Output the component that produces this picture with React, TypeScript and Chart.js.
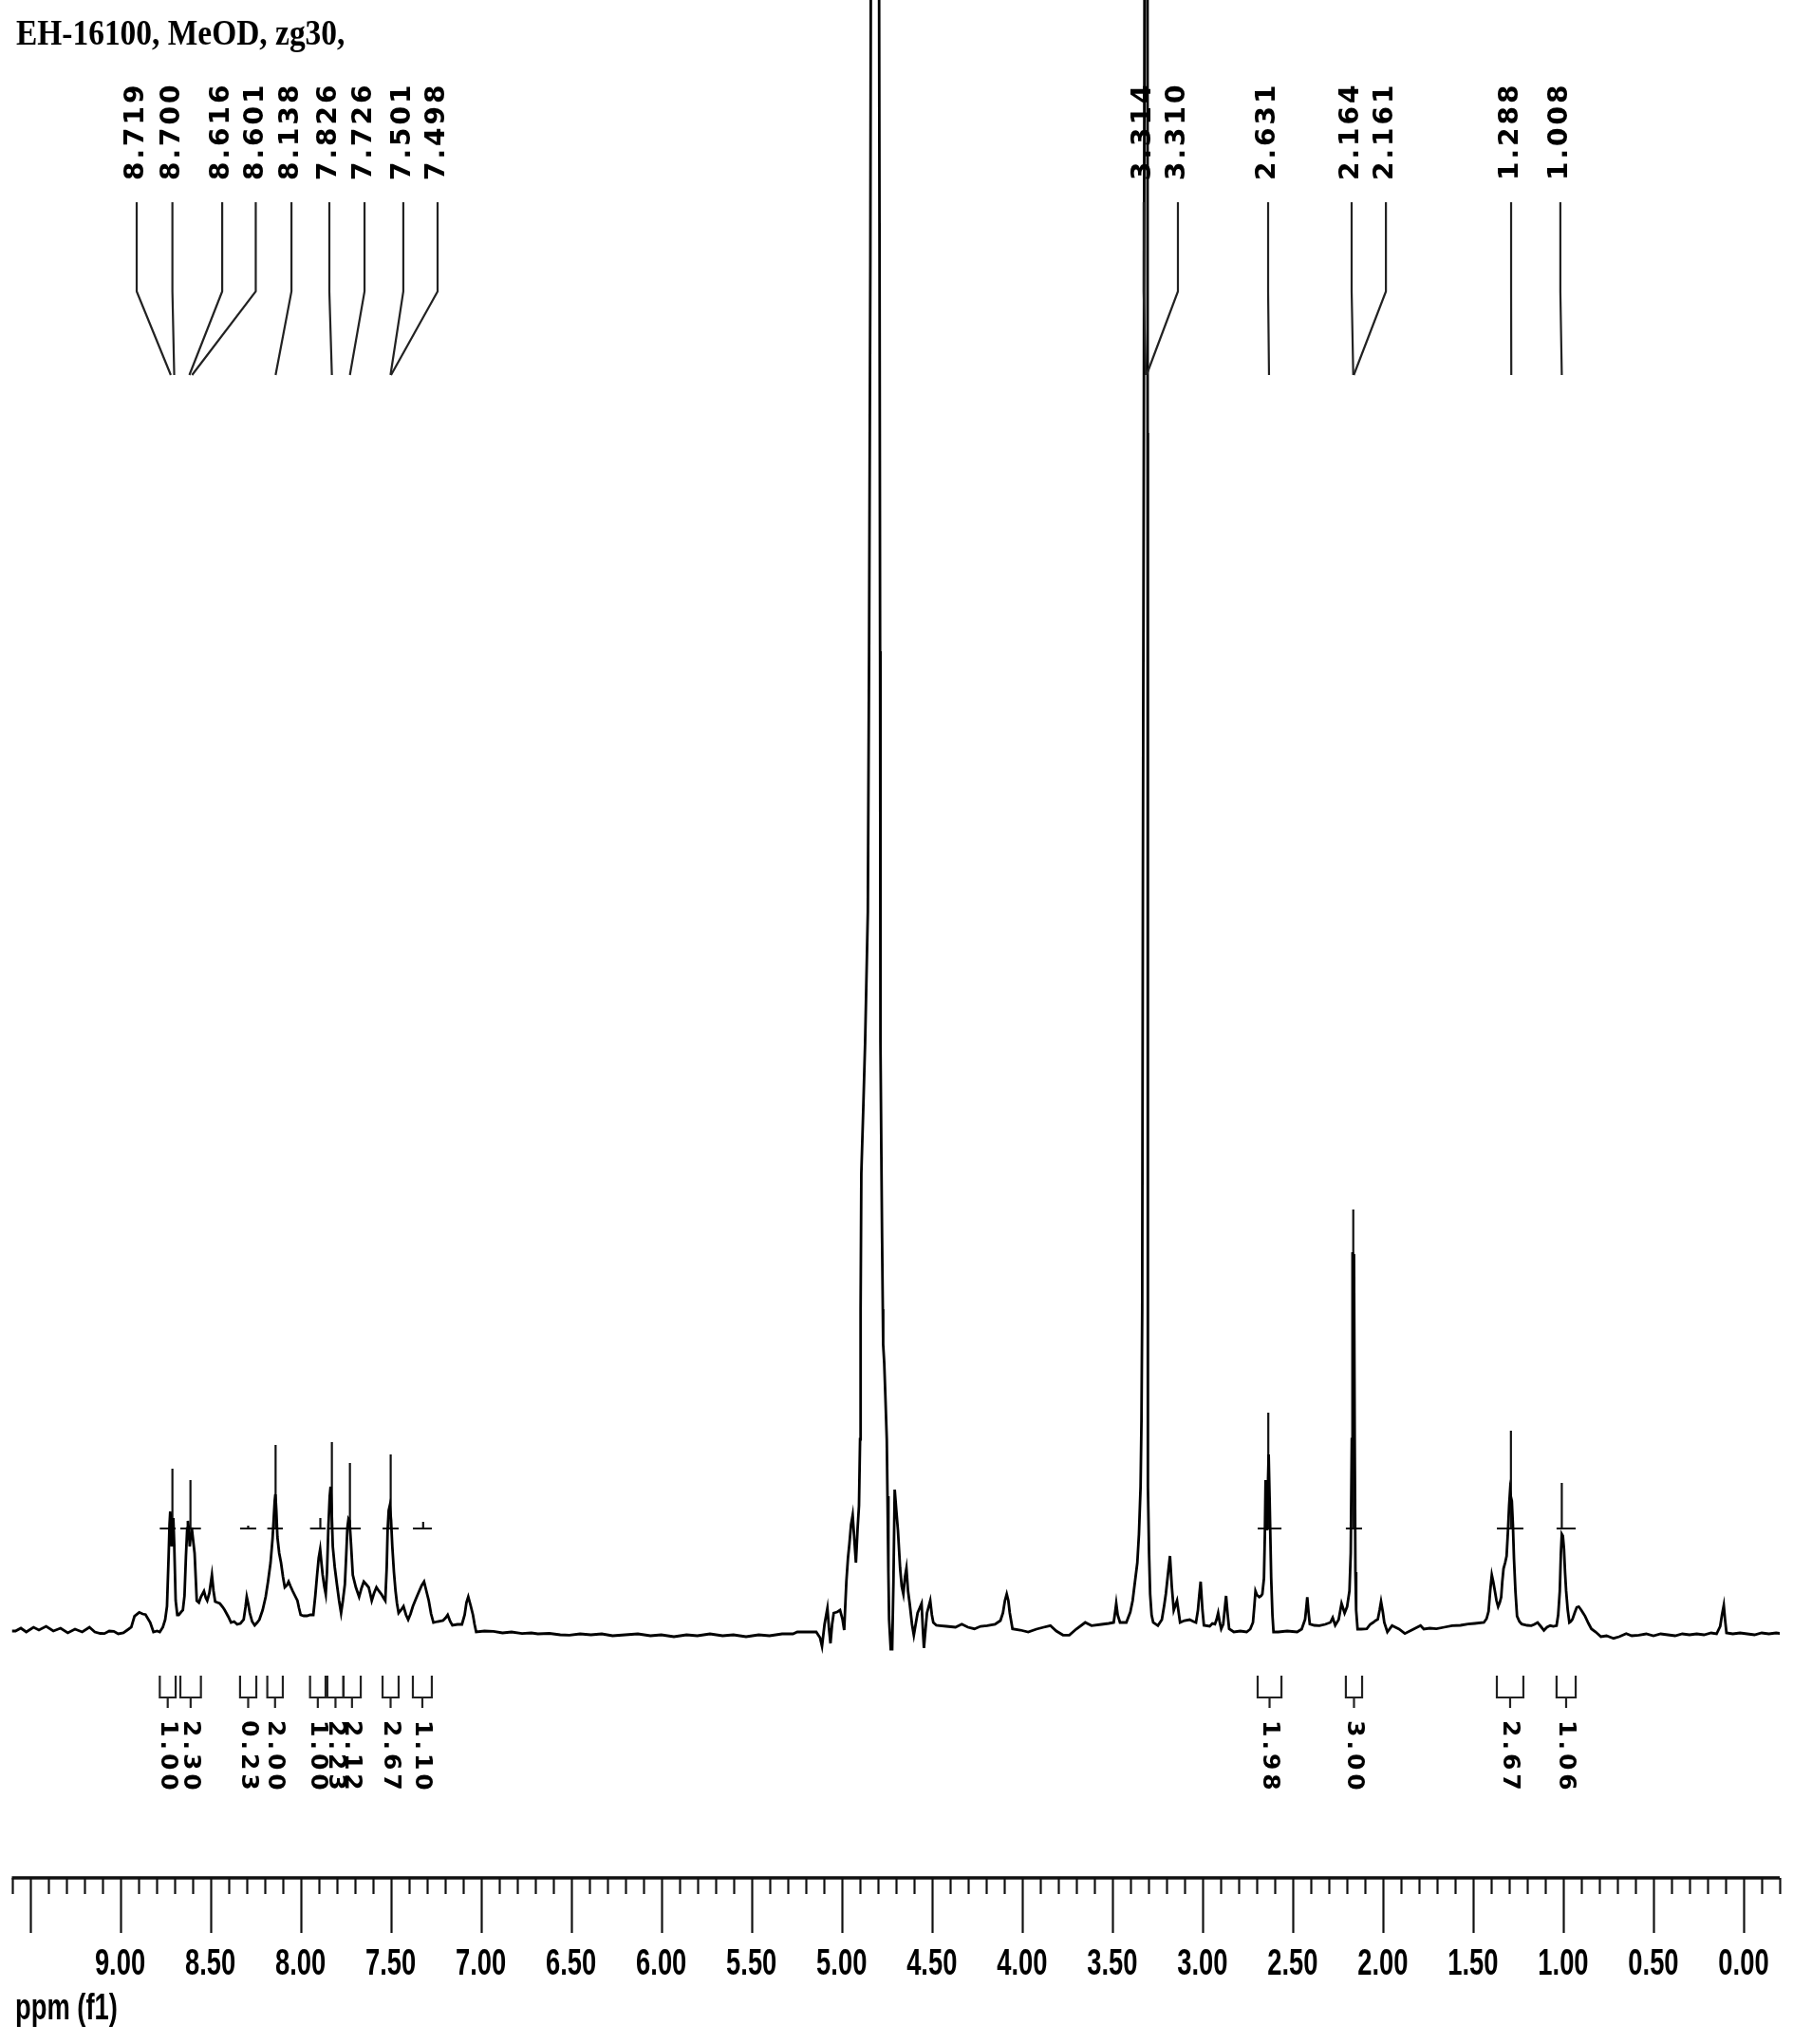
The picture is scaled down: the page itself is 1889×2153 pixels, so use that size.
import React, { useEffect, useRef } from "react";
import { Chart, registerables } from "chart.js";

Chart.register(...registerables);

// ---------- text ----------
const TITLE = "EH-16100, MeOD, zg30,";
const AXIS_TITLE = "ppm (f1)";

// ---------- axis ----------
const X_MIN = -0.2;
const X_MAX = 9.6;
const Y_MIN = -26.2;
const Y_MAX = 171.6;
const TICK_VALUES = [9.0, 8.5, 8.0, 7.5, 7.0, 6.5, 6.0, 5.5, 5.0, 4.5, 4.0, 3.5, 3.0, 2.5, 2.0, 1.5, 1.0, 0.5, 0.0];
const TICK_LABELS = ["9.00", "8.50", "8.00", "7.50", "7.00", "6.50", "6.00", "5.50", "5.00", "4.50", "4.00", "3.50", "3.00", "2.50", "2.00", "1.50", "1.00", "0.50", "0.00"];

// ---------- spectrum (ppm, intensity) ----------
const baselineLow: [number, number][] = [
  [9.6, -0.2], [9.58, -0.2], [9.55, 0.1], [9.52, -0.3], [9.48, 0.2], [9.45, -0.1], [9.41, 0.3], [9.37, -0.2],
  [9.33, 0.1], [9.29, -0.4], [9.25, 0.0], [9.21, -0.3], [9.17, 0.2], [9.14, -0.3],
];

const aromaticRegion: [number, number][] = [
  [9.11, -0.45], [9.087, -0.47], [9.06, -0.2], [9.035, -0.23], [9.01, -0.5], [8.982, -0.4], [8.96, -0.1],
  [8.938, 0.2], [8.92, 1.37], [8.894, 1.77], [8.875, 1.6], [8.859, 1.53], [8.833, 0.7], [8.815, -0.3],
  [8.795, -0.2], [8.78, -0.3], [8.763, 0.2], [8.75, 1.0], [8.74, 2.4], [8.731, 7.7], [8.726, 11.0],
  [8.722, 12.4], [8.718, 11.5], [8.714, 8.7], [8.709, 10.5], [8.705, 11.7], [8.7, 9.0], [8.692, 3.0],
  [8.683, 1.5], [8.675, 1.5], [8.662, 1.8], [8.652, 2.0], [8.643, 3.5], [8.635, 7.7], [8.628, 10.6],
  [8.624, 11.4], [8.619, 10.5], [8.614, 8.7], [8.608, 10.0], [8.603, 10.7], [8.596, 9.5], [8.587, 8.0],
  [8.575, 3.0], [8.563, 2.8], [8.552, 3.4], [8.535, 4.0], [8.525, 3.3], [8.517, 3.0], [8.505, 3.8],
  [8.491, 5.7], [8.482, 4.0], [8.473, 2.9], [8.447, 2.7], [8.43, 2.3], [8.42, 2.0], [8.4, 1.3],
  [8.385, 0.7], [8.368, 0.8], [8.351, 0.5], [8.333, 0.6], [8.315, 1.0], [8.305, 2.3], [8.298, 3.4],
  [8.289, 2.6], [8.281, 1.7], [8.268, 0.8], [8.254, 0.4], [8.24, 0.7], [8.228, 1.0], [8.21, 2.0],
  [8.193, 3.4], [8.18, 5.0], [8.166, 7.0], [8.155, 9.5], [8.149, 11.4], [8.143, 13.5], [8.139, 14.2],
  [8.134, 12.5], [8.128, 9.7], [8.118, 8.0], [8.108, 7.0], [8.097, 5.5], [8.087, 4.4], [8.076, 4.6],
  [8.066, 5.0], [8.055, 4.5], [8.043, 4.0], [8.03, 3.5], [8.017, 3.0], [8.008, 2.2], [7.999, 1.5],
  [7.982, 1.4], [7.964, 1.4], [7.946, 1.5], [7.929, 1.5], [7.918, 3.5], [7.908, 5.7], [7.899, 7.5],
  [7.891, 8.4], [7.884, 7.0], [7.877, 5.7], [7.868, 4.5], [7.86, 3.7], [7.853, 6.0], [7.846, 10.4],
  [7.838, 14.0], [7.833, 15.0], [7.828, 13.0], [7.821, 8.7], [7.81, 6.5], [7.798, 4.7], [7.786, 3.0],
  [7.775, 1.7], [7.765, 3.0], [7.754, 4.7], [7.746, 8.0], [7.74, 10.7], [7.734, 11.6], [7.728, 11.4],
  [7.72, 9.0], [7.71, 5.7], [7.693, 4.4], [7.675, 3.4], [7.662, 4.3], [7.649, 5.0], [7.635, 4.7],
  [7.622, 4.4], [7.613, 3.7], [7.605, 3.0], [7.592, 3.8], [7.579, 4.4], [7.565, 4.0], [7.552, 3.7],
  [7.54, 3.3], [7.53, 3.0], [7.522, 6.5], [7.517, 10.4], [7.511, 12.5], [7.505, 13.0], [7.498, 11.5],
  [7.491, 8.7], [7.482, 6.0], [7.473, 4.0], [7.465, 2.7], [7.456, 1.7], [7.443, 2.0], [7.429, 2.4],
  [7.415, 1.5], [7.403, 1.0], [7.39, 1.6], [7.377, 2.4], [7.36, 3.2], [7.342, 4.0], [7.328, 4.6],
  [7.315, 5.0], [7.302, 4.0], [7.289, 3.0], [7.276, 1.6], [7.263, 0.7], [7.24, 0.8], [7.21, 0.9],
  [7.195, 1.2], [7.184, 1.5], [7.17, 0.8], [7.158, 0.4], [7.13, 0.5], [7.105, 0.5], [7.09, 1.5],
  [7.08, 2.8], [7.07, 3.4], [7.057, 2.5], [7.044, 1.5], [7.035, 0.5], [7.026, -0.3], [6.98, -0.2],
  [6.93, -0.23], [6.88, -0.4], [6.83, -0.3], [6.772, -0.47], [6.72, -0.4], [6.684, -0.5], [6.62, -0.45],
  [6.56, -0.6], [6.509, -0.63],
];

const baselineMid: [number, number][] = [
  [6.45, -0.5], [6.39, -0.6], [6.33, -0.5], [6.27, -0.7], [6.2, -0.6], [6.13, -0.5], [6.06, -0.7],
  [6.0, -0.6], [5.93, -0.8], [5.86, -0.6], [5.8, -0.7], [5.73, -0.5], [5.66, -0.7], [5.6, -0.6],
  [5.53, -0.8], [5.46, -0.6], [5.4, -0.7], [5.33, -0.5], [5.27, -0.5],
];

const waterRegion: [number, number][] = [
  [5.246, -0.3], [5.2, -0.3], [5.141, -0.3], [5.12, -0.9], [5.109, -1.8], [5.095, 0.5], [5.079, 2.2],
  [5.07, 0.0], [5.062, -1.5], [5.053, 0.5], [5.044, 1.7], [5.025, 1.8], [5.009, 2.0], [4.995, 1.0],
  [4.986, -0.1], [4.98, 2.5], [4.974, 5.0], [4.965, 7.5], [4.957, 9.0], [4.948, 11.0], [4.939, 12.0],
  [4.93, 9.5], [4.921, 7.0], [4.912, 10.5], [4.904, 13.0], [4.898, 20.0], [4.895, 33.7], [4.891, 48.0],
  [4.88, 55.0], [4.87, 61.8], [4.855, 75.5], [4.848, 103.0], [4.841, 144.0], [4.836, 200.0],
  [4.815, 400.0], [4.795, 200.0], [4.79, 144.0], [4.787, 103.0], [4.785, 61.8], [4.78, 50.0],
  [4.776, 41.2], [4.772, 33.7], [4.77, 30.0], [4.764, 28.0], [4.758, 24.7], [4.75, 20.0], [4.746, 14.0],
  [4.741, 6.0], [4.737, 1.0], [4.728, -2.1], [4.72, -2.1], [4.713, 5.0], [4.706, 14.7], [4.697, 12.5],
  [4.688, 10.4], [4.676, 6.4], [4.667, 4.5], [4.658, 3.7], [4.649, 5.5], [4.641, 6.4], [4.632, 4.0],
  [4.623, 2.7], [4.61, 0.5], [4.6, -0.63], [4.59, 0.5], [4.579, 1.7], [4.568, 2.2], [4.557, 2.7],
  [4.55, 0.0], [4.544, -2.0], [4.535, 0.0], [4.527, 1.7], [4.509, 3.0], [4.5, 1.5], [4.492, 0.7],
  [4.475, 0.4], [4.457, 0.37],
];

const midAliphatic: [number, number][] = [
  [4.42, 0.3], [4.369, 0.2], [4.334, 0.53], [4.3, 0.2], [4.264, 0.03], [4.23, 0.3], [4.194, 0.37],
  [4.15, 0.5], [4.12, 0.9], [4.106, 1.7], [4.095, 3.0], [4.085, 3.7], [4.076, 3.0], [4.068, 1.7],
  [4.053, 0.03], [4.01, -0.1], [3.966, -0.3], [3.92, 0.0], [3.88, 0.2], [3.843, 0.37], [3.81, -0.2],
  [3.773, -0.63], [3.738, -0.63], [3.7, 0.0], [3.65, 0.7], [3.615, 0.37], [3.56, 0.5], [3.52, 0.6],
  [3.492, 0.7], [3.484, 1.8], [3.478, 2.7], [3.47, 1.5], [3.457, 0.7], [3.422, 0.7], [3.4, 1.8],
];

const methanolRegion: [number, number][] = [
  [3.387, 3.0], [3.374, 5.0], [3.361, 7.0], [3.352, 10.0], [3.343, 15.0], [3.338, 22.0], [3.334, 33.7],
  [3.33, 80.0], [3.325, 126.0], [3.319, 200.0], [3.316, 400.0], [3.308, 400.0], [3.305, 200.0],
  [3.304, 126.0], [3.304, 60.0], [3.303, 33.7], [3.3, 15.0], [3.296, 8.0], [3.29, 3.7], [3.282, 1.5],
  [3.273, 0.7], [3.247, 0.37], [3.225, 1.0], [3.212, 2.5], [3.203, 3.7], [3.19, 6.0], [3.18, 7.7],
  [3.17, 4.5], [3.159, 2.0], [3.15, 2.5], [3.141, 3.0], [3.13, 1.5], [3.124, 0.7], [3.1, 0.9],
  [3.071, 1.0], [3.05, 0.8], [3.036, 0.7], [3.025, 2.0], [3.018, 3.5], [3.01, 5.0], [3.0, 2.0],
  [2.992, 0.4], [2.96, 0.3], [2.945, 0.6],
];

const highFieldRegion: [number, number][] = [
  [2.931, 0.53], [2.922, 1.0], [2.913, 1.7], [2.905, 0.8], [2.896, 0.03], [2.885, 0.5], [2.877, 2.0],
  [2.869, 3.5], [2.86, 1.5], [2.852, 0.03], [2.826, -0.3], [2.79, -0.2], [2.755, -0.3], [2.735, 0.0],
  [2.72, 0.7], [2.712, 2.5], [2.706, 4.0], [2.698, 3.6], [2.685, 3.37], [2.675, 3.5], [2.668, 3.7],
  [2.659, 5.37], [2.654, 10.0], [2.65, 15.7], [2.646, 12.5], [2.642, 10.4], [2.638, 14.5], [2.633, 18.4],
  [2.628, 14.0], [2.619, 5.37], [2.612, 1.5], [2.606, -0.3], [2.58, -0.3], [2.53, -0.2], [2.475, -0.3],
  [2.45, 0.0], [2.431, 1.03], [2.424, 2.3], [2.419, 3.37], [2.412, 1.8], [2.405, 0.53], [2.38, 0.4],
  [2.352, 0.37], [2.32, 0.5], [2.291, 0.7], [2.278, 1.2], [2.264, 0.4], [2.245, 1.0], [2.229, 2.7],
  [2.212, 1.7], [2.198, 2.37], [2.185, 4.03], [2.178, 8.0], [2.172, 20.0], [2.168, 39.7], [2.163, 38.5],
  [2.16, 39.5], [2.156, 20.0], [2.152, 6.0], [2.148, 2.0], [2.14, 0.0], [2.12, 0.0], [2.089, 0.03],
  [2.07, 0.5], [2.054, 0.7], [2.04, 0.9], [2.028, 1.03], [2.018, 2.0], [2.01, 2.9], [2.0, 1.8],
  [1.992, 0.7], [1.975, -0.3], [1.949, 0.37], [1.91, 0.0], [1.878, -0.47], [1.84, -0.1], [1.791, 0.37],
  [1.773, 0.0], [1.74, 0.1], [1.703, 0.03], [1.66, 0.2], [1.616, 0.37], [1.57, 0.4], [1.528, 0.53],
  [1.49, 0.6], [1.44, 0.7], [1.425, 1.1], [1.414, 1.87], [1.405, 4.0], [1.396, 5.7], [1.388, 5.0],
  [1.379, 4.03], [1.37, 3.0], [1.361, 2.37], [1.352, 2.8], [1.344, 3.37], [1.338, 5.0], [1.331, 6.37],
  [1.322, 7.0], [1.314, 7.7], [1.306, 10.5], [1.3, 13.0], [1.295, 14.5], [1.291, 14.0], [1.285, 13.5],
  [1.279, 11.0], [1.273, 7.4], [1.265, 4.0], [1.256, 1.37], [1.243, 0.8], [1.23, 0.53], [1.2, 0.4],
  [1.177, 0.37], [1.16, 0.5], [1.142, 0.7], [1.125, 0.3], [1.107, -0.13], [1.09, 0.2], [1.072, 0.37],
  [1.055, 0.3], [1.037, 0.37], [1.028, 1.5], [1.019, 4.03], [1.013, 8.0], [1.008, 10.0], [1.002, 9.8],
  [0.996, 8.5], [0.99, 6.0], [0.984, 4.03], [0.975, 2.0], [0.966, 0.7], [0.958, 0.8], [0.949, 1.03],
  [0.935, 1.8], [0.925, 2.3], [0.914, 2.37], [0.9, 2.0], [0.89, 1.7], [0.879, 1.37], [0.86, 0.6],
  [0.844, 0.03], [0.82, -0.3], [0.791, -0.8], [0.76, -0.7], [0.721, -0.97], [0.69, -0.8], [0.651, -0.47],
  [0.62, -0.7], [0.581, -0.63], [0.54, -0.5], [0.5, -0.7], [0.46, -0.5], [0.42, -0.6], [0.38, -0.7],
  [0.34, -0.5], [0.3, -0.6], [0.26, -0.5], [0.22, -0.6], [0.18, -0.4], [0.15, -0.5], [0.13, 0.3],
  [0.12, 1.5], [0.11, 2.5], [0.103, 1.0], [0.095, -0.4], [0.06, -0.5], [0.02, -0.4], [-0.02, -0.5],
  [-0.06, -0.6], [-0.1, -0.4], [-0.14, -0.5], [-0.18, -0.4], [-0.22, -0.5],
];

// ---------- peak picking labels ----------
const peakLabelsAromatic = ["8.719", "8.700", "8.616", "8.601", "8.138", "7.826", "7.726", "7.501", "7.498"];
const peakLabelsAliphatic = ["3.314", "3.310", "2.631", "2.164", "2.161", "1.288", "1.008"];
// where each label column sits along the axis (ppm)
const aromaticLabelSlots = [8.908, 8.71, 8.434, 8.248, 8.05, 7.84, 7.645, 7.43, 7.24];
const aliphaticLabelSlots = [3.326, 3.136, 2.636, 2.173, 1.983, 1.289, 1.016];

// ---------- integrals ----------
const integralFrom = [8.78, 8.666, 8.335, 8.184, 7.947, 7.851, 7.763, 7.545, 7.377, 2.694, 2.205, 1.368, 1.037];
const integralTo = [8.692, 8.552, 8.245, 8.098, 7.861, 7.761, 7.666, 7.456, 7.272, 2.562, 2.115, 1.221, 0.931];
const integralCenter = [8.71, 8.61, 8.29, 8.138, 7.89, 7.826, 7.726, 7.5, 7.32, 2.635, 2.164, 1.29, 1.008];
const integralValues = ["1.00", "2.30", "0.23", "2.00", "1.00", "2.23", "2.12", "2.67", "1.10", "1.98", "3.00", "2.67", "1.06"];
const integralCurveTop = [16.9, 15.7, 10.9, 19.4, 11.7, 19.7, 17.5, 18.4, 11.3, 22.8, 44.2, 20.9, 15.4];
const INTEGRAL_BASE = 10.6;

// ---------- layout (in y-axis units) ----------
const LEADER_TOP = 150.3;
const LEADER_BEND = 140.9;
const LEADER_END = 132.1;
const PEAK_LABEL_START = 152.6;
const BRACKET_TOP = -4.9;
const BRACKET_BOTTOM = -7.2;
const BRACKET_STEM = -8.3;
const INTEGRAL_LABEL_START = -9.6;

const spectrumSegments = [baselineLow, aromaticRegion, baselineMid, waterRegion, midAliphatic, methanolRegion, highFieldRegion];

export default function App() {
  const canvasRef = useRef<HTMLCanvasElement | null>(null);

  useEffect(() => {
    const canvas = canvasRef.current;
    if (!canvas) return;

    const spectrumData = spectrumSegments.flat().map(([x, y]) => ({ x, y }));

    const integralDatasets = integralFrom.map((from, i) => ({
      type: "line" as const,
      data: [
        { x: from, y: INTEGRAL_BASE },
        { x: integralTo[i], y: INTEGRAL_BASE },
        { x: integralCenter[i], y: null },
        { x: integralCenter[i], y: INTEGRAL_BASE },
        { x: integralCenter[i], y: integralCurveTop[i] },
      ],
      borderColor: "#111",
      borderWidth: 2.2,
      pointRadius: 0,
      tension: 0,
      spanGaps: false,
      fill: false,
    }));

    const annotations = {
      id: "nmrAnnotations",
      beforeDraw(chart: any) {
        const c = chart.ctx;
        c.save();
        c.fillStyle = "#fff";
        c.fillRect(0, 0, chart.width, chart.height);
        c.restore();
      },
      afterDraw(chart: any) {
        const c: CanvasRenderingContext2D = chart.ctx;
        const xs = chart.scales.x;
        const ys = chart.scales.y;
        const area = chart.chartArea;
        const px = (v: number) => xs.getPixelForValue(v);
        const py = (v: number) => ys.getPixelForValue(v);
        c.save();
        c.fillStyle = "#000";
        c.strokeStyle = "#111";

        // axis line
        const axisY = area.bottom;
        c.lineWidth = 3.5;
        c.beginPath();
        c.moveTo(px(X_MAX), axisY);
        c.lineTo(px(X_MIN), axisY);
        c.stroke();
        // ticks every 0.1 ppm, major every 0.5
        c.lineWidth = 2.2;
        for (let i = Math.round(X_MIN * 10); i <= Math.round(X_MAX * 10); i++) {
          const v = i / 10;
          const major = i % 5 === 0;
          const x = Math.round(px(v)) + 0.5;
          c.beginPath();
          c.moveTo(x, axisY);
          c.lineTo(x, axisY + (major ? 58 : 17));
          c.stroke();
        }
        // tick labels (condensed)
        c.font = "bold 38px 'Liberation Sans', Arial, sans-serif";
        c.textBaseline = "middle";
        TICK_VALUES.forEach((v, i) => {
          c.save();
          c.translate(px(v), axisY + 92);
          c.scale(0.72, 1);
          c.textAlign = "center";
          c.fillText(TICK_LABELS[i], 0, 0);
          c.restore();
        });
        // axis title
        c.save();
        c.translate(16, axisY + 139);
        c.scale(0.72, 1);
        c.textAlign = "left";
        c.fillText(AXIS_TITLE, 0, 0);
        c.restore();

        // title
        c.save();
        c.font = "bold 38px 'Liberation Serif', 'Times New Roman', serif";
        c.textBaseline = "alphabetic";
        c.translate(17, 47);
        c.scale(0.88, 1);
        c.textAlign = "left";
        c.fillText(TITLE, 0, 0);
        c.restore();

        // peak labels with leader lines
        const drawPeakGroup = (labels: string[], slots: number[]) => {
          labels.forEach((txt, i) => {
            const peak = parseFloat(txt);
            const lx = px(slots[i]);
            c.lineWidth = 2.2;
            c.strokeStyle = "#222";
            c.beginPath();
            c.moveTo(lx, py(LEADER_TOP));
            c.lineTo(lx, py(LEADER_BEND));
            c.lineTo(px(peak), py(LEADER_END));
            c.stroke();
            c.save();
            c.font = "bold 28px 'DejaVu Sans', Arial, sans-serif";
            (c as any).letterSpacing = "3px";
            c.textBaseline = "middle";
            c.textAlign = "left";
            c.translate(lx, py(PEAK_LABEL_START));
            c.rotate(-Math.PI / 2);
            c.fillText(txt, 0, 0);
            c.restore();
          });
        };
        drawPeakGroup(peakLabelsAromatic, aromaticLabelSlots);
        drawPeakGroup(peakLabelsAliphatic, aliphaticLabelSlots);

        // integral brackets and values
        integralFrom.forEach((from, i) => {
          const x1 = px(from);
          const x2 = px(integralTo[i]);
          const xm = (x1 + x2) / 2;
          c.lineWidth = 2.2;
          c.strokeStyle = "#222";
          c.beginPath();
          c.moveTo(x1, py(BRACKET_TOP));
          c.lineTo(x1, py(BRACKET_BOTTOM));
          c.lineTo(x2, py(BRACKET_BOTTOM));
          c.lineTo(x2, py(BRACKET_TOP));
          c.moveTo(xm, py(BRACKET_BOTTOM));
          c.lineTo(xm, py(BRACKET_STEM));
          c.stroke();
          c.save();
          c.font = "bold 25px 'DejaVu Sans', Arial, sans-serif";
          (c as any).letterSpacing = "4px";
          c.textBaseline = "middle";
          c.textAlign = "left";
          c.translate(xm, py(INTEGRAL_LABEL_START));
          c.rotate(Math.PI / 2);
          c.fillText(integralValues[i], 0, 0);
          c.restore();
        });
        c.restore();
      },
    };

    const chart = new Chart(canvas, {
      type: "line",
      data: {
        datasets: [
          {
            data: spectrumData,
            borderColor: "#000",
            borderWidth: 2.8,
            pointRadius: 0,
            tension: 0,
            fill: false,
          } as any,
          ...(integralDatasets as any[]),
        ],
      },
      options: {
        animation: false,
        responsive: false,
        maintainAspectRatio: false,
        events: [],
        layout: { padding: { left: 12.5, right: 14, top: 0, bottom: 175 } },
        scales: {
          x: { type: "linear", min: X_MIN, max: X_MAX, reverse: true, display: false },
          y: { type: "linear", min: Y_MIN, max: Y_MAX, display: false },
        },
        plugins: {
          legend: { display: false },
          tooltip: { enabled: false },
          title: { display: false },
        },
      },
      plugins: [annotations],
    });

    return () => {
      chart.destroy();
    };
  }, []);

  return (
    <div style={{ position: "absolute", left: 0, top: 0, width: 1889, height: 2153, background: "#fff" }}>
      <canvas ref={canvasRef} width={1889} height={2153} style={{ display: "block", width: 1889, height: 2153 }} />
    </div>
  );
}
